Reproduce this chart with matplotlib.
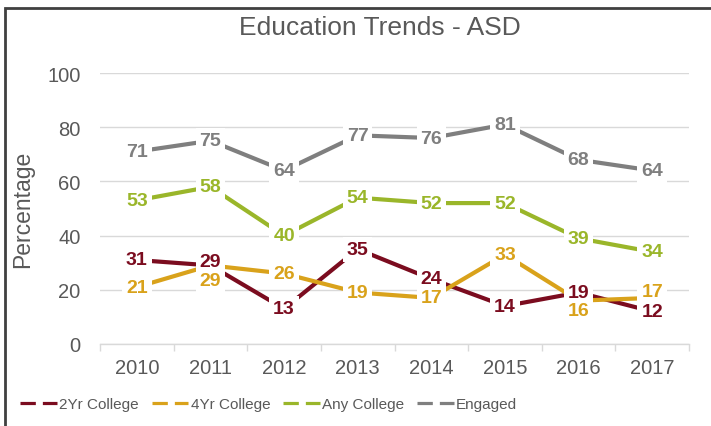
import matplotlib.pyplot as plt
from matplotlib.patches import Rectangle

plt.rcParams['font.family'] = ['Liberation Sans', 'DejaVu Sans']

years = ["2010", "2011", "2012", "2013", "2014", "2015", "2016", "2017"]
two_yr = [31, 29, 13, 35, 24, 14, 19, 12]
four_yr = [21, 29, 26, 19, 17, 33, 16, 17]
any_college = [53, 58, 40, 54, 52, 52, 39, 34]
engaged = [71, 75, 64, 77, 76, 81, 68, 64]

series = [
    ("2Yr College", two_yr, "#7B0C1F"),
    ("4Yr College", four_yr, "#D9A21B"),
    ("Any College", any_college, "#9AB62A"),
    ("Engaged", engaged, "#7F7F7F"),
]

# label nudges (pixels, + is down) where Excel moved overlapping labels
nudge = {("2Yr College", 1): -4, ("4Yr College", 1): 15,
         ("4Yr College", 6): 10, ("4Yr College", 7): -6}

fig = plt.figure(figsize=(7.11, 4.27), dpi=100)
ax = fig.add_axes([100 / 711, 1 - 345 / 427, 589 / 711, 271 / 427])

x = list(range(len(years)))
for name, vals, col in series:
    ax.plot(x, vals, color=col, lw=3, solid_capstyle="butt", zorder=2)
    ax.plot([], [], color=col, lw=2.3, ls=(0, (4.8, 2.2)), label=name)
for name, vals, col in series:
    for i, v in enumerate(vals):
        dy = nudge.get((name, i), 0) * 0.72
        ax.annotate(str(v), (i, v), xytext=(0, -dy), textcoords="offset points",
                    ha="center", va="center", fontsize=14, fontweight="bold",
                    color=col, zorder=4,
                    bbox=dict(boxstyle="square,pad=0.2", fc="white", ec="none"))

ax.set_xlim(-0.5, len(years) - 0.5)
ax.set_ylim(0, 100)
ax.set_yticks(range(0, 101, 20))
ax.set_xticks(x)
ax.set_xticklabels(years)
ax.set_xticks([i - 0.5 for i in range(len(years) + 1)], minor=True)
ax.tick_params(axis="x", which="major", length=0, pad=10)
ax.tick_params(axis="x", which="minor", length=5, color="#D9D9D9", width=1)
ax.tick_params(axis="y", length=0, pad=14)
ax.tick_params(labelsize=14.5, labelcolor="#595959")
ax.grid(axis="y", color="#D9D9D9", lw=1, zorder=0)
for s in ["top", "right", "left"]:
    ax.spines[s].set_visible(False)
ax.spines["bottom"].set_color("#D9D9D9")
ax.spines["bottom"].set_linewidth(1)
ax.set_ylabel("Percentage", fontsize=16.5, color="#595959", va="center")
ax.yaxis.set_label_coords(-(100 - 23) / 589, 0.5)
fig.text(380 / 711, 1 - 28 / 427, "Education Trends - ASD", fontsize=19,
         color="#595959", ha="center", va="center")

ax.legend(loc="center left", bbox_to_anchor=(20 / 711, 1 - 405 / 427),
          bbox_transform=fig.transFigure, ncol=4, frameon=False,
          fontsize=11, labelcolor="#595959", handlelength=2.4, handletextpad=0.15,
          columnspacing=0.85, borderpad=0, borderaxespad=0)

fig.patches.append(Rectangle((5 / 711, -0.1), 1.2, 1 - 9 / 427 + 0.1,
                             transform=fig.transFigure, fill=False,
                             ec="#404040", lw=2))

fig.savefig("out.png", dpi=100)
